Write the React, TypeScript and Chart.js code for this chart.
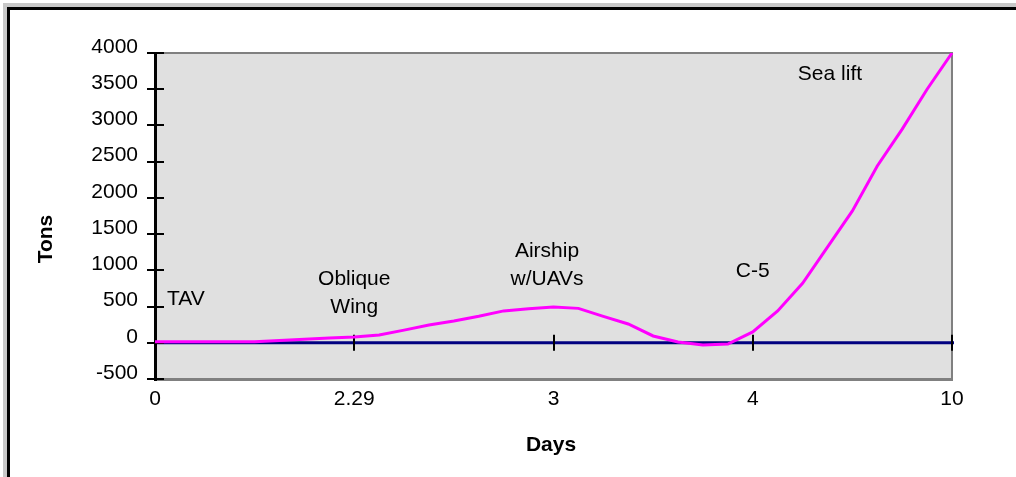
import React, { useEffect, useRef } from 'react';
import { Chart, registerables } from 'chart.js';

Chart.register(...registerables);

// Day labels shown on the x axis (one every 8 samples)
const dayLabels = ['0', '2.29', '3', '4', '10'];
const samplesPerDay = 8;

// Tons (sampled along the x axis, 8 samples per labelled interval)
const tons = [
  15, 15, 15, 15, 15, 30, 50, 65,
  80, 108, 175, 245, 300, 365, 440, 470,
  494, 475, 365, 259, 94, 10, -30, -17,
  150, 440, 820, 1320, 1820, 2440, 2950, 3500,
  4000,
];

const yMin = -500;
const yMax = 4000;
const yStep = 500;

// Text annotations: anchor in data units (x = sample index, y = tons at first baseline)
const annotationText = [['TAV'], ['Oblique', 'Wing'], ['Airship', 'w/UAVs'], ['C-5'], ['Sea lift']];
const annotationX = [0.48, 8, 15.74, 24, 27.1];
const annotationY = [522, 798, 1184, 908, 3627];
const annotationAlign: CanvasTextAlign[] = ['left', 'center', 'center', 'center', 'center'];

const xTitle = 'Days';
const yTitle = 'Tons';

const FONT = "'Liberation Sans', Arial, sans-serif";
const FS = 21;

const categoryLabels: string[] = [];
dayLabels.forEach((d, i) => {
  categoryLabels.push(d);
  if (i < dayLabels.length - 1) {
    for (let k = 1; k < samplesPerDay; k++) categoryLabels.push('');
  }
});

const framePlugin = {
  id: 'framePlugin',
  beforeDraw(chart: any) {
    const { ctx, chartArea: a } = chart;
    ctx.save();
    ctx.fillStyle = '#e0e0e0';
    ctx.fillRect(a.left, a.top, a.right - a.left, a.bottom - a.top);
    ctx.restore();
  },
  beforeDatasetsDraw(chart: any) {
    const { ctx, chartArea: a, scales } = chart;
    const xs = scales.x;
    const ys = scales.y;
    ctx.save();
    // gray border: top, right
    ctx.strokeStyle = '#808080';
    ctx.lineWidth = 2;
    ctx.beginPath();
    ctx.moveTo(a.left, a.top);
    ctx.lineTo(a.right, a.top);
    ctx.lineTo(a.right, a.bottom);
    ctx.stroke();
    // bottom, thicker
    ctx.lineWidth = 3;
    ctx.beginPath();
    ctx.moveTo(a.left, a.bottom + 0.5);
    ctx.lineTo(a.right + 1, a.bottom + 0.5);
    ctx.stroke();
    // zero line
    const y0 = ys.getPixelForValue(0);
    ctx.strokeStyle = '#000080';
    ctx.lineWidth = 3;
    ctx.beginPath();
    ctx.moveTo(a.left, y0);
    ctx.lineTo(a.right + 2, y0);
    ctx.stroke();
    // x ticks crossing the zero line
    ctx.strokeStyle = '#000';
    ctx.lineWidth = 2;
    categoryLabels.forEach((l, i) => {
      if (l && i > 0) {
        const px = Math.round(xs.getPixelForValue(i));
        ctx.beginPath();
        ctx.moveTo(px, y0 - 8);
        ctx.lineTo(px, y0 + 8);
        ctx.stroke();
      }
    });
    // y axis line
    ctx.lineWidth = 3;
    ctx.beginPath();
    ctx.moveTo(a.left + 0.5, a.top - 1);
    ctx.lineTo(a.left + 0.5, a.bottom + 2);
    ctx.stroke();
    // y ticks
    ctx.lineWidth = 2;
    ys.ticks.forEach((t: any) => {
      const py = Math.round(ys.getPixelForValue(t.value));
      ctx.beginPath();
      ctx.moveTo(a.left - 8, py);
      ctx.lineTo(a.left + 9, py);
      ctx.stroke();
    });
    ctx.restore();
  },
  afterDraw(chart: any) {
    const { ctx, scales } = chart;
    const xs = scales.x;
    const ys = scales.y;
    ctx.save();
    ctx.fillStyle = '#000';
    ctx.textBaseline = 'alphabetic';
    ctx.font = `${FS}px ${FONT}`;
    annotationText.forEach((lines, i) => {
      const px = xs.getPixelForValue(annotationX[i]);
      const py = ys.getPixelForValue(annotationY[i]);
      ctx.textAlign = annotationAlign[i];
      lines.forEach((ln, j) => ctx.fillText(ln, px, py + j * 28));
    });
    // axis titles
    ctx.font = `bold ${FS}px ${FONT}`;
    ctx.textAlign = 'center';
    ctx.fillText(xTitle, 551, 451);
    ctx.translate(52, 239);
    ctx.rotate(-Math.PI / 2);
    ctx.fillText(yTitle, 0, 0);
    ctx.restore();
  },
};

export default function App() {
  const ref = useRef<HTMLCanvasElement | null>(null);
  useEffect(() => {
    if (!ref.current) return;
    const chart = new Chart(ref.current, {
      type: 'line',
      data: {
        labels: categoryLabels,
        datasets: [
          {
            data: tons,
            borderColor: '#ff00ff',
            borderWidth: 3,
            pointRadius: 0,
            tension: 0,
            fill: false,
          },
        ],
      },
      plugins: [framePlugin],
      options: {
        animation: false,
        responsive: false,
        events: [],
        layout: { padding: { top: 53, right: 64, left: 0, bottom: 0 } },
        plugins: { legend: { display: false }, tooltip: { enabled: false }, title: { display: false } },
        scales: {
          x: {
            type: 'category',
            offset: false,
            grid: { display: true, drawOnChartArea: false, drawTicks: false },
            border: { display: false },
            ticks: {
              autoSkip: false,
              maxRotation: 0,
              minRotation: 0,
              padding: 8,
              color: '#000',
              font: { family: FONT, size: FS },
            },
            afterFit(scale: any) {
              scale.height = 98;
            },
          },
          y: {
            type: 'linear',
            min: yMin,
            max: yMax,
            grid: { display: true, drawOnChartArea: false, drawTicks: false },
            border: { display: false },
            ticks: {
              stepSize: yStep,
              padding: 17,
              labelOffset: -6,
              color: '#000',
              font: { family: FONT, size: FS },
              callback: (v: any) => String(v),
            },
            afterFit(scale: any) {
              scale.width = 155;
            },
          },
        },
      },
    });
    return () => chart.destroy();
  }, []);

  return (
    <div style={{ position: 'fixed', left: 0, top: 0, width: 1016, height: 477, overflow: 'hidden', background: '#fff' }}>
      <div
        style={{
          position: 'absolute',
          left: 3,
          top: 3,
          width: 1200,
          height: 700,
          borderLeft: '4px solid #c8c8c8',
          borderTop: '4px solid #c8c8c8',
        }}
      >
        <div style={{ width: '100%', height: '100%', borderLeft: '3px solid #000', borderTop: '3px solid #000' }} />
      </div>
      <canvas ref={ref} width={1016} height={477} style={{ position: 'absolute', left: 0, top: 0 }} />
    </div>
  );
}
